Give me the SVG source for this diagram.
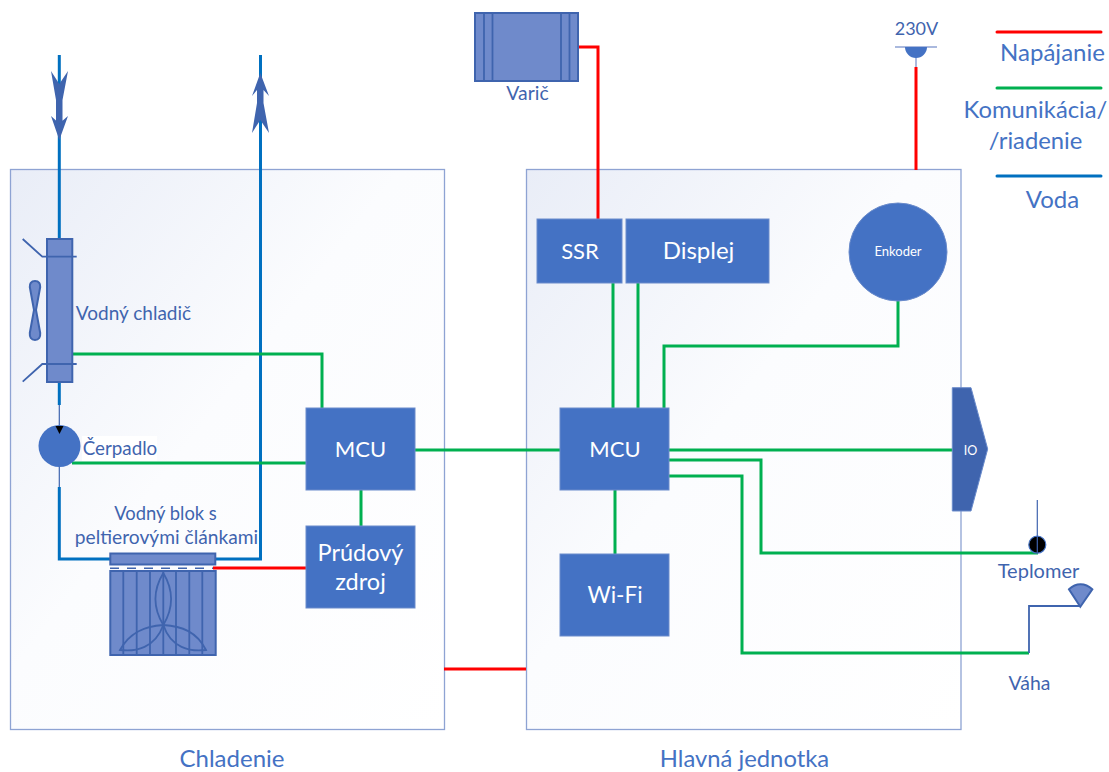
<svg xmlns="http://www.w3.org/2000/svg" width="1109" height="772" viewBox="0 0 1109 772">
<style>
text{font-family:"Lato","Open Sans",sans-serif;text-anchor:middle}
.d{fill:#3f64ae}.b{fill:#4472c4}.w{fill:#fff}
.box{fill:#4472c4;stroke:#6a8bcb;stroke-width:1}
.sh{fill:#6f8acb;stroke:#3f64ae;stroke-width:2}
.ln{fill:none;stroke:#3f64ae;stroke-width:1.8}
.r{fill:none;stroke:#ff0000;stroke-width:3}
.g{fill:none;stroke:#00b050;stroke-width:3}
.v{fill:none;stroke:#0070c0;stroke-width:3}
.ar{fill:#3f64ae}
</style>
<defs><linearGradient id="pg" x1="0" y1="0" x2="1" y2="1"><stop offset="0" stop-color="#e9edf7"/><stop offset=".45" stop-color="#fbfcfe"/><stop offset="1" stop-color="#fff"/></linearGradient></defs>
<rect width="1109" height="772" fill="#fff"/>
<g id="chladenie-panel"><rect x="10.5" y="169.5" width="434" height="560" fill="url(#pg)" stroke="#8ea3d3" stroke-width="1.3"/><text x="232" y="767" font-size="24" class="b">Chladenie</text></g>
<g id="hlavna-panel"><rect x="526.5" y="169.5" width="434.5" height="560" fill="url(#pg)" stroke="#8ea3d3" stroke-width="1.3"/><text x="744.500" y="767" font-size="23.800" class="b">Hlavná jednotka</text></g>
<g id="connectors">
<path class="v" d="M59.3 55V239M59.3 382V405M59.3 487V559H111M215 559H260.5V55"/>
<path fill="none" stroke="#3f64ae" stroke-width="1.2" d="M59.3 405V426M59.3 466V487"/>
<path class="g" d="M72 354H322V408M72 463H306M361 490V526M415 450H560M615 490V554M613 283V408M638 283V408M898 301V346H664V408M669 450H953M669 460H761V553H1038M669 476H742V653H1029"/>
<path class="r" d="M213 568H306M444 669H526M577 47H598V219M916 67V170"/>
<path class="ln" d="M1029 653V606H1080"/>
</g>
<g id="water-arrows">
<path class="ar" d="M51 71L59.3 84L68 71L62.500 100V123H56V100ZM51 116L59.3 123.500L68 116L59.3 140Z"/>
<path class="ar" d="M260.300 73L269 96L263.500 90V103L269 133L260.300 120L252 133L257 103V90L252 96Z"/>
</g>
<g id="vodny-chladic">
<rect class="sh" x="47" y="239" width="25.3" height="143"/>
<path class="ln" d="M22.7 239L42.3 256.7H76.7M22.7 381.7L42.3 364H76.7"/>
<path class="sh" stroke-width="1.6" d="M35 281C39 281 40.5 284 40.2 287L36 310L40.2 333C40.5 337 39 340 35 340C31 340 29.500 337 29.800 333L34 310L29.800 287C29.500 284 31 281 35 281Z"/>
<text x="133.500" y="320" font-size="19" class="d">Vodný chladič</text>
</g>
<g id="cerpadlo">
<rect x="82" y="436" width="75" height="25" fill="#fff"/>
<circle cx="59.5" cy="446" r="21" fill="#4472c4"/>
<path d="M55.5 426H63.5L59.5 434Z" fill="#000"/>
<text x="120" y="455" font-size="18.800" class="d">Čerpadlo</text>
</g>
<g id="vodny-blok">
<rect class="sh" x="110.3" y="553.5" width="105" height="11"/>
<path fill="none" stroke="#3f64ae" stroke-width="1.5" stroke-dasharray="9 8" d="M110 568.3H213"/>
<rect class="sh" x="110.3" y="571" width="105.4" height="84"/>
<path class="ln" d="M123.3 571V655M136.7 571V655M150 571V655M163.3 571V655M176 571V655M189.3 571V655M202.3 571V655"/>
<path class="ln" d="M163.3 573C153 590 153 608 163.3 625C173.500 608 173.500 590 163.3 573ZM163.3 625C145 626 130 632 120 650C136 652 155 648 163.300 625ZM163.3 625C182 626 197 632 206 650C190 652 171 648 163.300 625Z"/>
<text x="165.500" y="520" font-size="18.400" class="d">Vodný blok s</text>
<text x="166.500" y="544" font-size="19.200" class="d">peltierovými článkami</text>
</g>
<g id="mcu-chladenie"><rect class="box" x="306" y="408" width="109" height="82"/><text class="w" x="360.500" y="457" font-size="22">MCU</text></g>
<g id="prudovy-zdroj"><rect class="box" x="306" y="526" width="109" height="82"/><text class="w" x="360.500" y="561" font-size="23.500">Prúdový</text><text class="w" x="360.500" y="590" font-size="23.500">zdroj</text></g>
<g id="varic"><rect class="sh" x="475" y="13" width="103" height="68"/><path class="ln" d="M484 13V81M492.500 13V81M561 13V81M569.500 13V81"/><text x="527.500" y="100" font-size="19.400" class="d">Varič</text></g>
<g id="ssr"><rect class="box" x="537" y="219" width="85" height="64"/><text class="w" x="580" y="259" font-size="22">SSR</text></g>
<g id="displej"><rect class="box" x="626" y="219" width="143" height="64"/><text class="w" x="698.500" y="259" font-size="24">Displej</text></g>
<g id="enkoder"><circle cx="898" cy="252" r="49" fill="#4472c4" stroke="#6a8bcb"/><text class="w" x="898" y="256" font-size="13">Enkoder</text></g>
<g id="mcu-hlavna"><rect class="box" x="560" y="408" width="109" height="82"/><text class="w" x="615" y="457" font-size="22">MCU</text></g>
<g id="wifi"><rect class="box" x="560" y="554" width="109" height="82"/><text class="w" x="615" y="603" font-size="22.500">Wi-Fi</text></g>
<g id="io"><path d="M952.300 387.700H971L987.700 449L971 511H952.300Z" fill="#3f64ae" stroke="#6a8bcb"/><text class="w" x="970.500" y="455" font-size="12.500">IO</text></g>
<g id="teplomer"><path fill="none" stroke="#3f64ae" stroke-width="1.200" d="M1037.300 500V537"/><circle cx="1037.300" cy="544.700" r="8.500" fill="#000" stroke="#4472c4" stroke-width="1.200"/><path stroke="#3f64ae" stroke-width="1.200" d="M1037.300 536V553"/><text x="1038.500" y="578" font-size="20" class="d">Teplomer</text></g>
<g id="vaha"><path class="sh" stroke-width="1.500" d="M1080.300 606.700L1069 589.300C1076 582.500 1085 582.500 1092.300 589.300Z"/><text x="1029.500" y="690" font-size="19.400" class="d">Váha</text></g>
<g id="napajanie-230v"><text x="916.500" y="35" font-size="18" class="d">230V</text><path fill="none" stroke="#8ea3d3" stroke-width="1.500" d="M895 47H937M916 47V67"/><path d="M905 47H927A11 11 0 0 1 905 47Z" fill="#4472c4"/></g>
<g id="legenda">
<path d="M997 32H1101" stroke="#ff0000" stroke-width="3" stroke-linecap="round"/><text x="1052.500" y="61" font-size="24" class="b">Napájanie</text>
<path d="M997 88H1101" stroke="#00b050" stroke-width="3" stroke-linecap="round"/><text x="1035.500" y="118" font-size="23.800" class="b">Komunikácia/</text><text x="1035.500" y="149" font-size="23.800" class="b">/riadenie</text>
<path d="M997 176H1101" stroke="#0070c0" stroke-width="3" stroke-linecap="round"/><text x="1052.500" y="208" font-size="24" class="b">Voda</text>
</g>
</svg>
